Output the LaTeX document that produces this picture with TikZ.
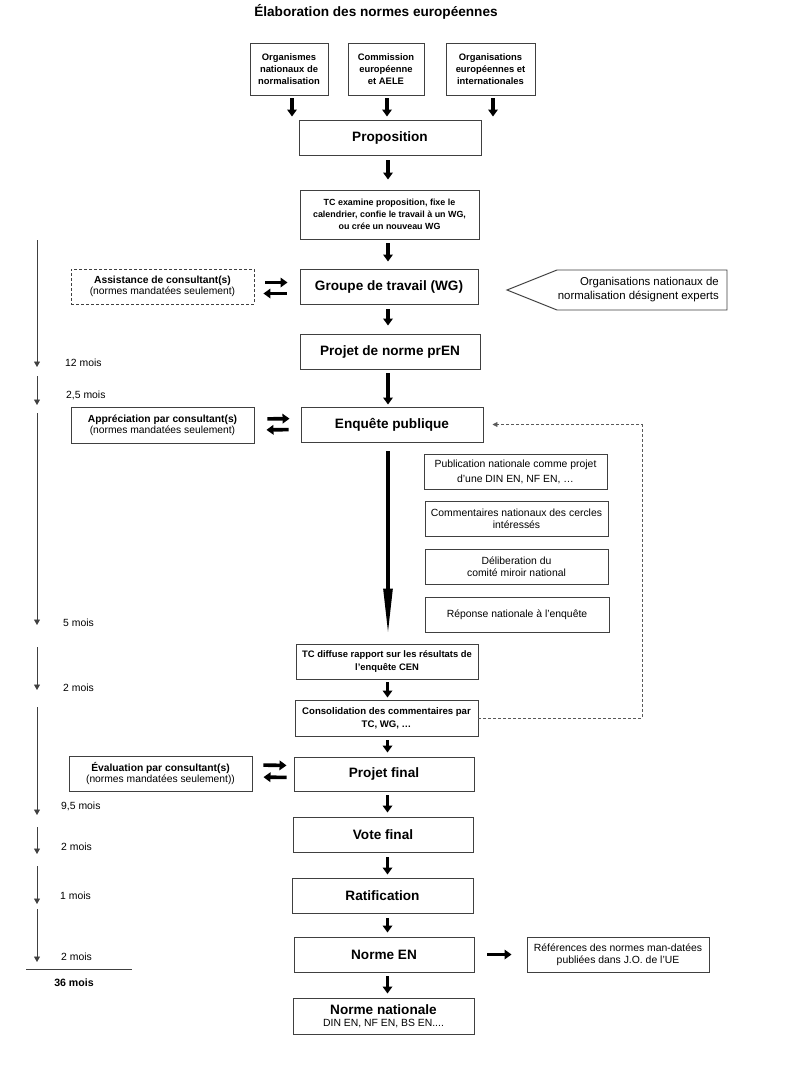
\documentclass[tikz,border=0pt]{standalone}
\usepackage{fontspec}
\setmainfont{Liberation Sans}
\usetikzlibrary{arrows.meta}
\begin{document}
\begin{tikzpicture}[x=1pt,y=-1pt,
 box/.style={draw=black!75, line width=0.95pt, inner sep=0pt, align=center},
 dbox/.style={box, line width=0.85pt, dash pattern=on 3pt off 2pt},
 outline/.style={draw=black!75, line width=0.95pt},
 big/.style={font=\bfseries\fontsize{13.6}{15}\selectfont},
 smb/.style={font=\bfseries\fontsize{9.4}{12.2}\selectfont},
 smr/.style={font=\fontsize{10.4}{12}\selectfont},
 fat/.style={line width=3.6pt, -{Triangle[width=9.5pt,length=7pt]}},
 longfat/.style={line width=4pt, -{Triangle[width=8.5pt,length=48pt]}},
 tline/.style={draw=black!75, line width=0.9pt, -{Triangle[width=6pt,length=5.5pt]}},
 fb/.style={draw=black!65, line width=0.8pt, dash pattern=on 3pt off 2pt, -{Triangle[width=5pt,length=5pt]}},
 lab/.style={anchor=west, inner sep=0pt, font=\fontsize{10.4}{12}\selectfont},
]
\useasboundingbox (0,0) rectangle (786,1068);
\fill[white] (0,0) rectangle (786,1068);

% title
\node[font=\bfseries\fontsize{13.6}{15}\selectfont] (title) at (376,12) {Élaboration des normes européennes};

% top boxes
\node[box, smb, minimum width=78pt, minimum height=52pt] (b1) at (289,69) {Organismes\\nationaux de\\normalisation};
\node[box, smb, minimum width=76pt, minimum height=52pt] (b2) at (386,69) {Commission\\européenne\\et AELE};
\node[box, smb, minimum width=89pt, minimum height=52pt] (b3) at (490.5,69) {Organisations\\européennes et\\internationales};

% main column
\node[box, big, minimum width=182pt, minimum height=35pt] (prop) at (390,137.5) {Proposition};
\node[box, font=\bfseries\fontsize{8.9}{12}\selectfont, minimum width=179pt, minimum height=49pt] (tc) at (389.5,214.5) {TC examine proposition, fixe le\\calendrier, confie le travail à un WG,\\ou crée un nouveau WG};
\node[box, big, minimum width=178pt, minimum height=35pt] (wg) at (389,286.5) {Groupe de travail (WG)};
\node[box, big, minimum width=180pt, minimum height=35pt] (pren) at (390,351.5) {Projet de norme prEN};
\node[box, big, minimum width=182pt, minimum height=35pt] (enq) at (392,424.5) {Enquête publique};
\node[box, smb, minimum width=182pt, minimum height=35pt] (tcd) at (387,661.5) {TC diffuse rapport sur les résultats de\\l'enquête CEN};
\node[box, font=\bfseries\fontsize{9.6}{13}\selectfont, minimum width=183pt, minimum height=36pt] (consol) at (386.5,718) {Consolidation des commentaires par\\TC, WG, …};
\node[box, big, minimum width=180pt, minimum height=34pt] (projf) at (384,774) {Projet final};
\node[box, big, minimum width=180pt, minimum height=35pt] (vote) at (383,834.5) {Vote final};
\node[box, big, minimum width=181pt, minimum height=35pt] (ratif) at (382.5,895.5) {Ratification};
\node[box, big, minimum width=180pt, minimum height=35pt] (nen) at (384,954.5) {Norme EN};
\node[box, minimum width=181pt, minimum height=36pt] (nat) at (383.5,1016) {{\bfseries\fontsize{13.6}{13}\selectfont Norme nationale}\\{\fontsize{10.4}{11}\selectfont DIN EN, NF EN, BS EN....}};

% left consultant boxes
\node[dbox, font=\fontsize{10.3}{11}\selectfont, minimum width=183pt, minimum height=35pt] (assist) at (162.5,286.5) {\textbf{Assistance de consultant(s)}\\(normes mandatées seulement)};
\node[box, font=\fontsize{10.3}{11}\selectfont, minimum width=183pt, minimum height=36pt] (appr) at (162.5,425) {\textbf{Appréciation par consultant(s)}\\(normes mandatées seulement)};
\node[box, font=\fontsize{10.3}{11.7}\selectfont, minimum width=183pt, minimum height=35pt] (evalb) at (160.5,773.5) {\textbf{Évaluation par consultant(s)}\\(normes mandatées seulement))};

% right national boxes
\node[box, font=\fontsize{10.4}{15}\selectfont, minimum width=183pt, minimum height=35pt] (pub) at (515.5,471.5) {Publication nationale comme projet\\d'une DIN EN, NF EN, …};
\node[box, smr, minimum width=183pt, minimum height=35pt] (comm) at (516.5,518.5) {Commentaires nationaux des cercles\\intéressés};
\node[box, smr, minimum width=183pt, minimum height=35pt] (delib) at (516.5,566.5) {Déliberation du\\comité miroir national};
\node[box, smr, minimum width=184pt, minimum height=35pt] (rep) at (517,614.5) {Réponse nationale à l'enquête};
\node[box, smr, minimum width=182pt, minimum height=35pt] (ref) at (618,954.5) {Références des normes man-datées\\publiées dans J.O. de l'UE};

% pentagon (experts)
\coordinate (pa) at (507,290);
\coordinate (pb) at (557,270);
\coordinate (pc) at (727,270);
\coordinate (pd) at (727,310);
\coordinate (pe) at (557,310);
\draw[outline] (pa) -- (pb) -- (pc) -- (pd) -- (pe) -- cycle;
\node[anchor=east, align=right, inner sep=0pt, font=\fontsize{11.4}{14}\selectfont] (ptext) at (719,290) {Organisations nationaux de\\normalisation désignent experts};

% column coordinates
\coordinate (c1) at (292,0);
\coordinate (c2) at (387,0);
\coordinate (c3) at (493,0);
\coordinate (ax) at (388,0);
\coordinate (bx) at (387.5,0);

% top arrows
\draw[fat, shorten <=3pt, shorten >=3pt] (c1 |- b1.south) -- (c1 |- prop.north);
\draw[fat, shorten <=3pt, shorten >=3pt] (c2 |- b2.south) -- (c2 |- prop.north);
\draw[fat, shorten <=3pt, shorten >=3pt] (c3 |- b3.south) -- (c3 |- prop.north);

% main flow arrows
\draw[fat, shorten <=5pt, shorten >=10pt] (ax |- prop.south) -- (ax |- tc.north);
\draw[fat, shorten <=4pt, shorten >=7pt] (ax |- tc.south) -- (ax |- wg.north);
\draw[fat, shorten <=5pt, shorten >=8pt] (ax |- wg.south) -- (ax |- pren.north);
\draw[fat, shorten <=4pt, shorten >=2pt] (ax |- pren.south) -- (ax |- enq.north);
\draw[longfat, shorten <=9pt, shorten >=7pt] (ax |- enq.south) -- (ax |- tcd.north);
\draw[fat, shorten <=3pt, shorten >=2pt] (bx |- tcd.south) -- (bx |- consol.north);
\draw[fat, shorten <=4pt, shorten >=4pt] (bx |- consol.south) -- (bx |- projf.north);
\draw[fat, shorten <=4pt, shorten >=4pt] (bx |- projf.south) -- (bx |- vote.north);
\draw[fat, shorten <=5pt, shorten >=3pt] (bx |- vote.south) -- (bx |- ratif.north);
\draw[fat, shorten <=5pt, shorten >=4pt] (bx |- ratif.south) -- (bx |- nen.north);
\draw[fat, shorten <=4pt, shorten >=4pt] (bx |- nen.south) -- (bx |- nat.north);
\draw[fat, shorten <=13pt, shorten >=15pt] (nen.east) -- (ref.west);

% consultant double arrows
\draw[fat, shorten <=11pt, shorten >=12pt] ([yshift=4pt]assist.east) -- ([yshift=4pt]wg.west);
\draw[fat, shorten <=13pt, shorten >=9pt] ([yshift=-7pt]wg.west) -- ([yshift=-7pt]assist.east);
\draw[fat, shorten <=13pt, shorten >=11pt] ([yshift=6pt]appr.east) -- ([yshift=6pt]enq.west);
\draw[fat, shorten <=12pt, shorten >=12pt] ([yshift=-5pt]enq.west) -- ([yshift=-5pt]appr.east);
\draw[fat, shorten <=11pt, shorten >=7pt] ([yshift=8.5pt]evalb.east) -- ([yshift=8.5pt]projf.west);
\draw[fat, shorten <=7pt, shorten >=11pt] ([yshift=-3.5pt]projf.west) -- ([yshift=-3.5pt]evalb.east);

% dashed feedback
\coordinate (fbx) at (642,0);
\draw[fb] (consol.east) -- (consol.east -| fbx) -- (fbx |- enq.east) -- ([xshift=9pt]enq.east);

% timeline
\coordinate (t1a) at (37,240); \coordinate (t1b) at (37,367);
\coordinate (t2a) at (37,376); \coordinate (t2b) at (37,405);
\coordinate (t3a) at (37,413); \coordinate (t3b) at (37,625);
\coordinate (t4a) at (37,647); \coordinate (t4b) at (37,690);
\coordinate (t5a) at (37,707); \coordinate (t5b) at (37,815);
\coordinate (t6a) at (37,827); \coordinate (t6b) at (37,854);
\coordinate (t7a) at (37,866); \coordinate (t7b) at (37,904);
\coordinate (t8a) at (37,909); \coordinate (t8b) at (37,962);
\draw[tline] (t1a) -- (t1b);
\draw[tline] (t2a) -- (t2b);
\draw[tline] (t3a) -- (t3b);
\draw[tline] (t4a) -- (t4b);
\draw[tline] (t5a) -- (t5b);
\draw[tline] (t6a) -- (t6b);
\draw[tline] (t7a) -- (t7b);
\draw[tline] (t8a) -- (t8b);
\node[lab] (l1) at (65,362.5) {12 mois};
\node[lab] (l2) at (66,395) {2,5 mois};
\node[lab] (l3) at (63,623) {5 mois};
\node[lab] (l4) at (63,688) {2 mois};
\node[lab] (l5) at (61,806) {9,5 mois};
\node[lab] (l6) at (61,847) {2 mois};
\node[lab] (l7) at (60,896) {1 mois};
\node[lab] (l8) at (61,957) {2 mois};
\coordinate (hla) at (26,969); \coordinate (hlb) at (132,969);
\draw[draw=black!75, line width=0.9pt] (hla) -- (hlb);
\node[font=\bfseries\fontsize{10.6}{12}\selectfont] (total) at (74,983) {36 mois};
\end{tikzpicture}
\end{document}
